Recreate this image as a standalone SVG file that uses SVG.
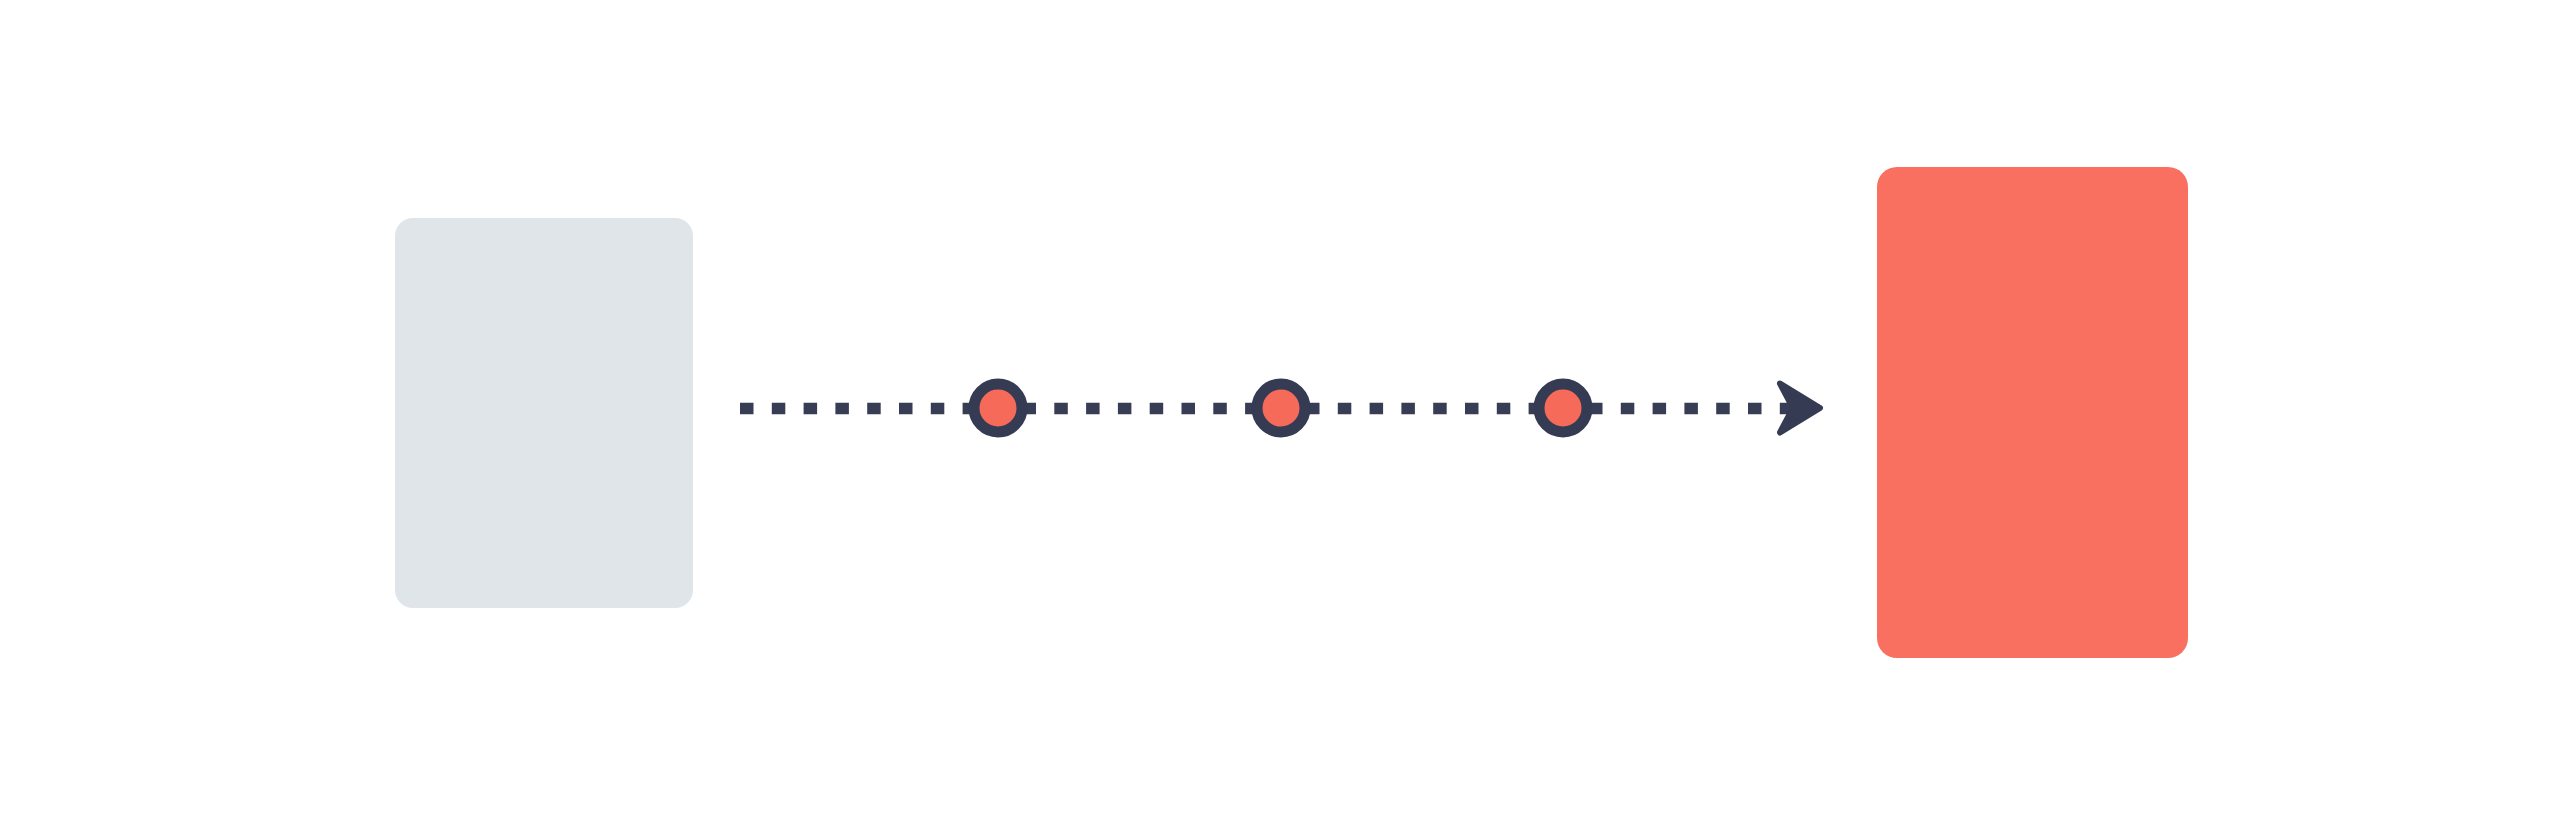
<svg xmlns="http://www.w3.org/2000/svg" width="2560" height="838" viewBox="0 0 2560 838">
  <style>
    .dash { stroke: #373d55; stroke-width: 11.5; stroke-dasharray: 13.5 18.3; fill: none; }
    .stop { fill: #f66a5a; stroke: #353b52; stroke-width: 11; }
  </style>
  <rect width="2560" height="838" fill="#ffffff"/>
  <g id="source">
    <rect x="395" y="218" width="298" height="390" rx="18" fill="#e0e5ea"/>
  </g>
  <g id="target">
    <rect x="1877" y="167" width="311" height="491" rx="20" fill="#f96f60"/>
  </g>
  <g id="connectors">
    <line class="dash" x1="740" y1="408.5" x2="980" y2="408.5"/>
    <line class="dash" x1="1022.5" y1="408.5" x2="1262" y2="408.5"/>
    <line class="dash" x1="1306" y1="408.5" x2="1545" y2="408.5"/>
    <line class="dash" x1="1589" y1="408.5" x2="1790" y2="408.5"/>
    <path d="M1780,383.5 L1820,408 L1780,432.5 L1793,408 Z" fill="#353b52" stroke="#353b52" stroke-width="6" stroke-linejoin="round"/>
  </g>
  <g id="stop1"><circle class="stop" cx="998" cy="408" r="24"/></g>
  <g id="stop2"><circle class="stop" cx="1281" cy="408" r="24"/></g>
  <g id="stop3"><circle class="stop" cx="1563" cy="408" r="24"/></g>
</svg>
